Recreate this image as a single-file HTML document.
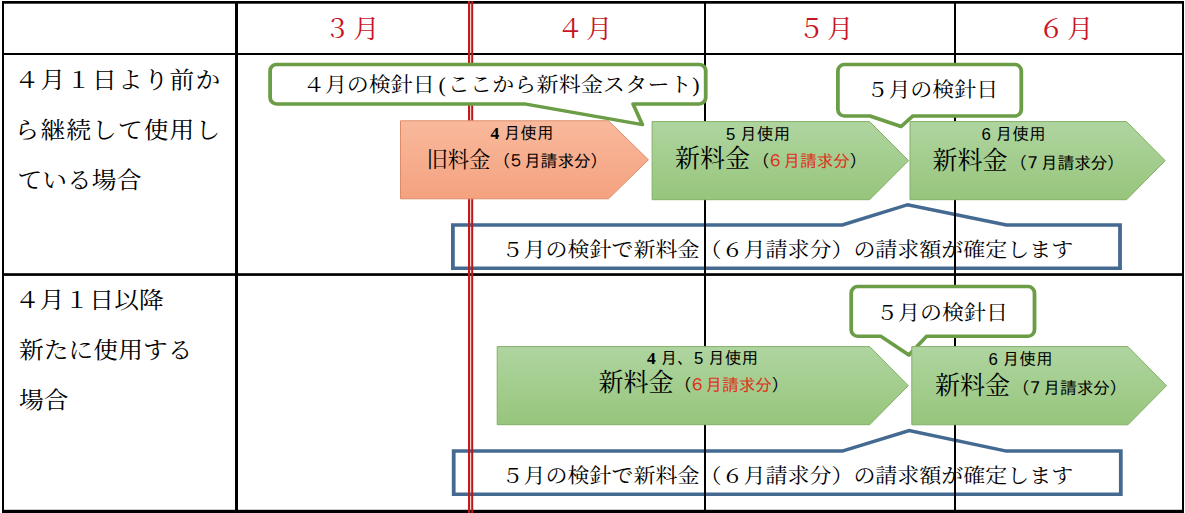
<!DOCTYPE html>
<html lang="ja"><head><meta charset="utf-8"><title>料金適用時期</title>
<style>
html,body{margin:0;padding:0;background:#fff;}
body{width:1185px;height:513px;overflow:hidden;}
svg{display:block;}
text.m{font-family:"Liberation Serif","Noto Serif CJK JP","Noto Serif CJK SC",serif;font-weight:400;}
text.g{font-family:"Liberation Sans","IPAGothic","Noto Sans CJK JP",sans-serif;}
</style></head><body>
<svg width="1185" height="513" viewBox="0 0 1185 513">
<defs>
<linearGradient id="gg" x1="0" y1="0" x2="0" y2="1"><stop offset="0" stop-color="#afd5a0"/><stop offset="1" stop-color="#97c57c"/></linearGradient>
<linearGradient id="og" x1="0" y1="0" x2="0" y2="1"><stop offset="0" stop-color="#f9b99c"/><stop offset="1" stop-color="#f4a27f"/></linearGradient>
</defs>
<rect x="0" y="0" width="1185" height="513" fill="#fff"/>
<g transform="scale(1.08,1)" fill="none" stroke="#446a92" stroke-width="3.5" stroke-linejoin="miter">
<path d="M419.35,224.90 L779.91,224.90 L840.46,204.70 L931.85,224.90 L1037.04,224.90 L1037.04,268.20 L419.35,268.20Z"/>
<path d="M420.09,451.10 L779.91,451.10 L841.85,430.60 L931.85,451.10 L1037.78,451.10 L1037.78,494.20 L420.09,494.20Z"/>
</g>
<g fill="#000">
<rect x="2" y="1" width="1182" height="2.7"/>
<rect x="2" y="509.8" width="1182" height="3.2"/>
<rect x="2" y="1" width="2" height="512"/>
<rect x="1182" y="1" width="2" height="512"/>
<rect x="2" y="53" width="1182" height="2"/>
<rect x="2" y="273.2" width="1182" height="2.7"/>
<rect x="235" y="1" width="3" height="512"/>
<rect x="704" y="1" width="2" height="512"/>
<rect x="954" y="1" width="2" height="512"/>
</g>
<rect x="468" y="1" width="2.2" height="512" fill="#c81818"/>
<rect x="471.2" y="1" width="2" height="512" fill="#b41c1c"/>
<g stroke-width="1">
<polygon points="400.5,120.8 608.5,120.8 648.4,159.8 608.5,198.8 400.5,198.8" fill="url(#og)" stroke="#dc8c69"/>
<polygon points="652.1,121.6 869.6,121.6 908.6,160.65 869.6,199.7 652.1,199.7" fill="url(#gg)" stroke="#84b066"/>
<polygon points="910.0,121.6 1126.6,121.6 1165.2,160.65 1126.6,199.7 910.0,199.7" fill="url(#gg)" stroke="#84b066"/>
<polygon points="497.2,346.6 869.7,346.6 908.3,385.65 869.7,424.7 497.2,424.7" fill="url(#gg)" stroke="#84b066"/>
</g>
<g transform="scale(1.08,1)" fill="#fff" stroke="#6b9d47" stroke-width="3.5" stroke-linejoin="round">
<path d="M256.11,64.40 L647.41,64.40 A6.02,6.5 0 0 1 653.43,70.90 L653.43,97.40 A6.02,6.5 0 0 1 647.41,103.90 L586.11,103.90 L594.81,124.60 L485.65,103.90 L256.11,103.90 A6.02,6.5 0 0 1 250.09,97.40 L250.09,70.90 A6.02,6.5 0 0 1 256.11,64.40Z"/>
<path d="M781.85,64.50 L939.63,64.50 A6.02,6.5 0 0 1 945.65,71.00 L945.65,109.50 A6.02,6.5 0 0 1 939.63,116.00 L845.19,116.00 L834.35,126.50 L805.56,116.00 L781.85,116.00 A6.02,6.5 0 0 1 775.83,109.50 L775.83,71.00 A6.02,6.5 0 0 1 781.85,64.50Z"/>
<path d="M794.17,286.60 L951.85,286.60 A6.02,6.5 0 0 1 957.87,293.10 L957.87,329.80 A6.02,6.5 0 0 1 951.85,336.30 L857.87,336.30 L841.57,355.00 L815.74,336.30 L794.17,336.30 A6.02,6.5 0 0 1 788.15,329.80 L788.15,293.10 A6.02,6.5 0 0 1 794.17,286.60Z"/>
</g>
<polygon points="911.8,346.6 1127.9,346.6 1166.5,385.7 1127.9,424.8 911.8,424.8" fill="url(#gg)" stroke="#84b066" stroke-width="1"/>
<text x="324.0" y="38.3" font-size="26.5" fill="#c81424" class="m">３<tspan dx="2.5">月</tspan></text>
<text x="557.0" y="38.3" font-size="26.5" fill="#c81424" class="m">４<tspan dx="2.5">月</tspan></text>
<text x="798.0" y="38.3" font-size="26.5" fill="#c81424" class="m">５<tspan dx="2.5">月</tspan></text>
<text x="1038.0" y="38.3" font-size="26.5" fill="#c81424" class="m">６<tspan dx="2.5">月</tspan></text>
<text x="0" y="0" transform="translate(14.6,87.8) scale(1,0.9)" font-size="24.8" fill="#000" letter-spacing="1.05" class="m">４月１日より前か</text>
<text x="0" y="0" transform="translate(14.6,138.2) scale(1,0.9)" font-size="24.8" fill="#000" letter-spacing="1.05" class="m">ら継続して使用し</text>
<text x="0" y="0" transform="translate(17.5,187.6) scale(1,0.9)" font-size="24.8" fill="#000" class="m">ている場合</text>
<text x="0" y="0" transform="translate(15,307.8) scale(1,0.9)" font-size="24.8" fill="#000" class="m">４月１日以降</text>
<text x="0" y="0" transform="translate(19,358.1) scale(1,0.9)" font-size="24.8" fill="#000" class="m">新たに使用する</text>
<text x="0" y="0" transform="translate(19,407.6) scale(1,0.9)" font-size="24.8" fill="#000" class="m">場合</text>
<text x="0" y="0" transform="translate(302.9,92.4) scale(1,0.92)" font-size="22" fill="#000" class="m">４月の検針日<tspan x="135.7">(</tspan><tspan x="144.9" letter-spacing="0.2">ここから新料金スタート</tspan><tspan x="389.3">)</tspan></text>
<text x="0" y="0" transform="translate(866.4,97.2) scale(1,0.92)" font-size="22" fill="#000" class="m">５月の検針日</text>
<text x="0" y="0" transform="translate(876,320.2) scale(1,0.92)" font-size="22" fill="#000" class="m">５月の検針日</text>
<text x="0" y="0" transform="translate(501.6,256.8) scale(1,0.92)" font-size="22" fill="#000" class="m">５月の検針で新料金（６月請求分）の請求額が確定します</text>
<text x="0" y="0" transform="translate(501.6,482.8) scale(1,0.92)" font-size="22" fill="#000" class="m">５月の検針で新料金（６月請求分）の請求額が確定します</text>
<text x="490.4" y="138.6" font-size="16.6" class="g"><tspan style="font-family:'Liberation Serif',serif;font-weight:700" font-size="17.5">4</tspan><tspan dx="4.6">月使用</tspan></text>
<text x="426.5" y="167" font-size="21.3" fill="#000" class="m">旧料金</text>
<text x="493.5" y="166.8" font-size="17" letter-spacing="-0.4" class="g">（<tspan dx="-2.7">５月請求分</tspan><tspan dx="-0.5">）</tspan></text>
<text x="726" y="140.4" font-size="16.8" fill="#000" class="g">5<tspan dx="4.7">月使用</tspan></text>
<text x="675" y="167" font-size="25" fill="#000" class="m">新料金</text>
<text x="752.8" y="166.8" font-size="17" letter-spacing="-0.4" class="g">（<tspan dx="-2.7" fill="#e0301c">６月請求分</tspan><tspan dx="-0.5">）</tspan></text>
<text x="981.5" y="140.4" font-size="16.8" fill="#000" class="g">6<tspan dx="4.7">月使用</tspan></text>
<text x="932.5" y="169" font-size="25" fill="#000" class="m">新料金</text>
<text x="1010.3" y="168.8" font-size="17" letter-spacing="-0.4" class="g">（<tspan dx="-2.7">７月請求分</tspan><tspan dx="-0.5">）</tspan></text>
<text x="647" y="364.2" font-size="16.8" class="g"><tspan style="font-family:'Liberation Serif',serif;font-weight:700" font-size="17.5">4</tspan><tspan dx="4.7">月、</tspan>5<tspan dx="4.7">月使用</tspan></text>
<text x="598.5" y="391" font-size="25" fill="#000" class="m">新料金</text>
<text x="674.8" y="390.8" font-size="17" letter-spacing="-0.4" class="g">（<tspan dx="-2.7" fill="#e0301c">６月請求分</tspan><tspan dx="-0.5">）</tspan></text>
<text x="988.5" y="365.2" font-size="16.8" fill="#000" class="g">6<tspan dx="4.7">月使用</tspan></text>
<text x="935" y="394" font-size="25" fill="#000" class="m">新料金</text>
<text x="1012.8" y="393.8" font-size="17" letter-spacing="-0.4" class="g">（<tspan dx="-2.7">７月請求分</tspan><tspan dx="-0.5">）</tspan></text>
</svg>
</body></html>
